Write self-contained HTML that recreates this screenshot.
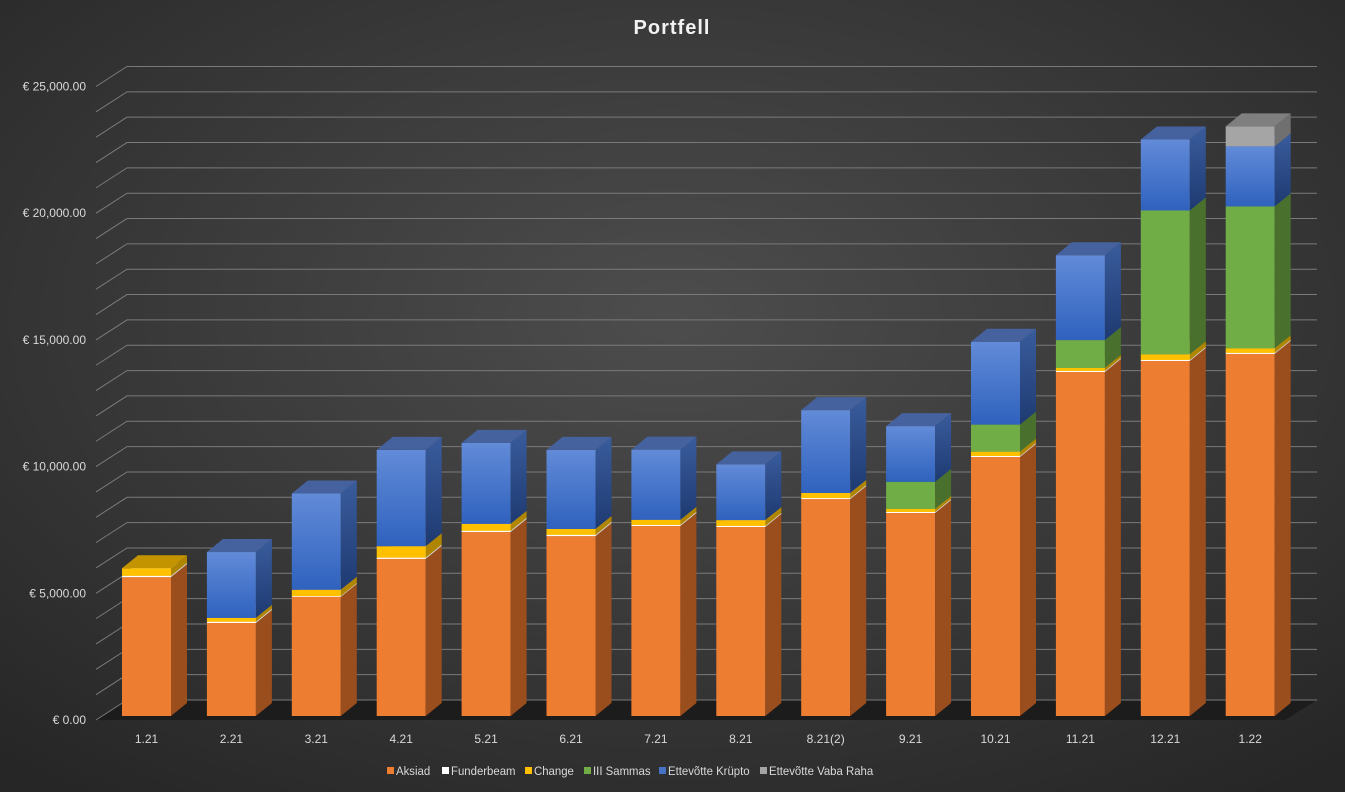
<!DOCTYPE html>
<html><head><meta charset="utf-8"><style>
html,body{margin:0;padding:0;}
body{width:1345px;height:792px;overflow:hidden;background:#3a3a3a;font-family:"Liberation Sans",sans-serif;}
svg{display:block}
</style></head><body>
<svg id="chart" width="1345" height="792" xmlns="http://www.w3.org/2000/svg">
<defs>
<radialGradient id="bg" cx="50%" cy="40%" r="75%">
<stop offset="0" stop-color="#4d4d4d"/><stop offset="1" stop-color="#262626"/>
</radialGradient>
<linearGradient id="blueF" x1="0" y1="0" x2="0" y2="1"><stop offset="0" stop-color="#628BD8"/><stop offset="1" stop-color="#2F62BE"/></linearGradient>
<linearGradient id="blueS" x1="0" y1="0" x2="0" y2="1"><stop offset="0" stop-color="#3A5C9C"/><stop offset="1" stop-color="#1E3A72"/></linearGradient>
</defs>
<rect width="1345" height="792" fill="url(#bg)"/>
<text x="672" y="34" text-anchor="middle" font-size="20" font-weight="bold" fill="#f2f2f2" letter-spacing="1">Portfell</text>
<g id="grid"></g><g id="bars"></g><g id="xl"></g><g id="legend"></g>
</svg>
<script>
const categories=["1.21","2.21","3.21","4.21","5.21","6.21","7.21","8.21","8.21(2)","9.21","10.21","11.21","12.21","1.22"];
const aksiad=[5480,3670,4700,6200,7260,7100,7500,7460,8560,8010,10220,13575,14010,14290];
const funderbeam=[50,50,30,50,50,50,40,40,40,40,40,40,40,40];
const change=[300,150,250,450,270,230,200,230,200,120,170,120,220,180];
const sammas=[0,0,0,0,0,0,0,0,0,1070,1070,1100,5680,5600];
const krypto=[0,2600,3800,3800,3200,3120,2770,2200,3270,2200,3270,3350,2800,2370];
const vabaRaha=[0,0,0,0,0,0,0,0,0,0,0,0,0,790];
const yTicks=[0,5000,10000,15000,20000,25000];
const yTickLabels=["€ 0.00","€ 5,000.00","€ 10,000.00","€ 15,000.00","€ 20,000.00","€ 25,000.00"];
const seriesNames=["Aksiad","Funderbeam","Change","III Sammas","Ettevõtte Krüpto","Ettevõtte Vaba Raha"];

const NS="http://www.w3.org/2000/svg";
const K=0.02534, BASE=716, DX=16, DY=13;
function yv(v){return v*K;}
function xc(i){return 122+i*84.9;}
function mk(tag,attrs,parent){const e=document.createElementNS(NS,tag);for(const k in attrs)e.setAttribute(k,attrs[k]);parent.appendChild(e);return e;}
const grid=document.getElementById('grid'),bars=document.getElementById('bars'),xl=document.getElementById('xl'),lg=document.getElementById('legend');
const floor=mk('polygon',{points:`95,720 1285,720 1317,700 127,700`,fill:'#1c1c1c'},grid);


for(let v=0;v<=25000;v+=1000){
  const yb=700-yv(v), yf=720-yv(v);
  const g=mk('polyline',{points:`96,${yf} 127,${yb} 1317,${yb}`,fill:'none',stroke:'#7a7a7a','stroke-width':1},grid);
  
  
}
yTicks.forEach((v,i)=>{
  const t=mk('text',{x:86,y:720-yv(v)+4,'text-anchor':'end','font-size':12,fill:'#d9d9d9'},grid);
  t.textContent=yTickLabels[i];
  
  
});
const series=[aksiad,funderbeam,change,sammas,krypto,vabaRaha];
const colors=[
 {f:'#ED7D31',s:'#9A4D1D',t:'#F29A5E'},
 {f:'#FFFFFF',s:'#CCCCCC',t:'#EEEEEE'},
 {f:'#FFC000',s:'#B08600',t:'#C49300'},
 {f:'#70AD47',s:'#4A702E',t:'#5E8F3B'},
 {f:'url(#blueF)',s:'url(#blueS)',t:'#45629E'},
 {f:'#A5A5A5',s:'#707070',t:'#7F7F7F'}];
categories.forEach((c,i)=>{
  const x=xc(i), w=49;
  let cum=0;
  const g=mk('g',{},bars);
  
  
  series.forEach((s,j)=>{
    const v=s[i]; if(!v) return;
    const y0=BASE-yv(cum), y1=BASE-yv(cum+v); cum+=v;
    const col=colors[j];
    mk('rect',{x:x,y:y1,width:w,height:y0-y1,fill:col.f},g);
    mk('polygon',{points:`${x+w},${y0} ${x+w+DX},${y0-DY} ${x+w+DX},${y1-DY} ${x+w},${y1}`,fill:col.s},g);
    mk('polygon',{points:`${x},${y1} ${x+w},${y1} ${x+w+DX},${y1-DY} ${x+DX},${y1-DY}`,fill:col.t},g);
  });
  const t=mk('text',{x:x+w/2,y:743,'text-anchor':'middle','font-size':12,fill:'#d9d9d9'},xl);
  t.textContent=c;
  
  
});
const lx=[387,442,525,584,659,760], lc=['#ED7D31','#FFFFFF','#FFC000','#70AD47','#4472C4','#A5A5A5'];
seriesNames.forEach((n,i)=>{
  const g=mk('g',{},lg);
  
  
  mk('rect',{x:lx[i],y:767,width:7,height:7,fill:lc[i]},g);
  const t=mk('text',{x:lx[i]+9,y:775,'font-size':12,fill:'#d9d9d9',textLength:0},g);
  t.removeAttribute('textLength');
  t.setAttribute('transform',`translate(${lx[i]+9},0) scale(0.95,1) translate(${-(lx[i]+9)},0)`);
  t.textContent=n;
});
</script>
</body></html>
